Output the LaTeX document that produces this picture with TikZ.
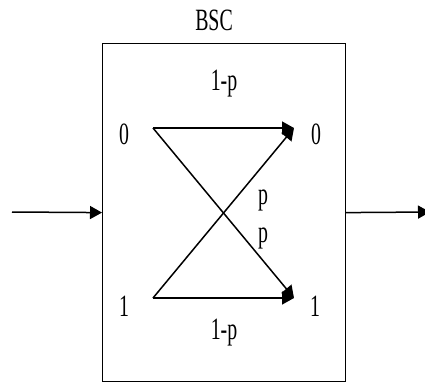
\documentclass[tikz,border=0pt]{standalone}
\usepackage{fontspec}
\setmainfont{Liberation Serif}
\usetikzlibrary{arrows.meta}
\newcommand{\lbl}[1]{\scalebox{0.64}[1]{\fontsize{31}{31}\selectfont #1}}
\tikzset{
  lab/.style={inner sep=0pt, anchor=base},
  conn/.style={line width=1.5pt, -{Triangle[length=12pt,width=13pt]}},
}
\begin{document}
\begin{tikzpicture}[x=1pt,y=-1pt]
\useasboundingbox (0,0) rectangle (425,383);
\node[draw, line width=1.2pt, minimum width=243pt, minimum height=338pt, inner sep=0pt, anchor=north west] (box) at (102,43) {};
\node[lab] (bsc) at (214,30) {\lbl{BSC}};
\node[lab] (tp) at (224,90) {\lbl{1-p}};
\node[lab] (bp) at (224,339) {\lbl{1-p}};
\node[lab] (l0) at (124,144) {\lbl{0}};
\node[lab] (r0) at (316,144) {\lbl{0}};
\node[lab] (l1) at (124,316) {\lbl{1}};
\node[lab] (r1) at (315,316) {\lbl{1}};
\node[lab] (p1) at (263,204) {\lbl{p}};
\node[lab] (p2) at (263,242) {\lbl{p}};
\coordinate (a0) at (153,128);
\coordinate (a1) at (153,298);
\coordinate (b0) at (294,128);
\coordinate (b1) at (294,298);
\coordinate (in) at (12,212);
\coordinate (out) at (430,212);
\draw[conn] (a0) -- (b0);
\draw[conn] (a0) -- (b1);
\draw[conn] (a1) -- (b1);
\draw[conn] (a1) -- (b0);
\draw[conn] (in) -- (box.west);
\draw[conn] (box.east) -- (out);
\end{tikzpicture}
\end{document}
